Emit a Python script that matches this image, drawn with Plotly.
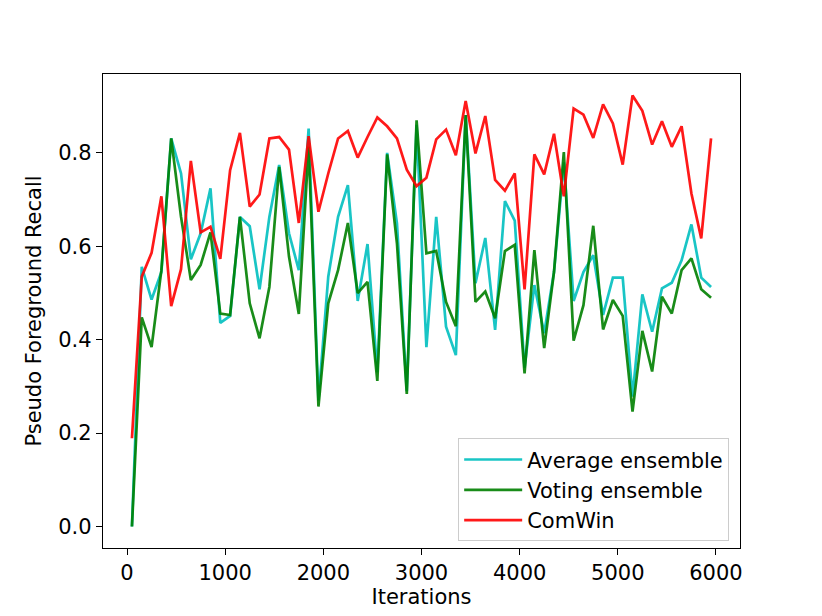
import plotly.graph_objects as go

# x grid: one evaluation every 100 iterations
iterations = list(range(50, 6000, 100))

average_ensemble = [
    0.000, 0.556, 0.486, 0.545, 0.831, 0.756, 0.572, 0.628, 0.724, 0.436,
    0.451, 0.663, 0.643, 0.508, 0.663, 0.774, 0.628, 0.549, 0.852, 0.270,
    0.535, 0.663, 0.731, 0.483, 0.605, 0.330, 0.800, 0.649, 0.290, 0.860,
    0.384, 0.663, 0.428, 0.367, 0.881, 0.521, 0.618, 0.421, 0.697, 0.655,
    0.340, 0.517, 0.414, 0.545, 0.780, 0.483, 0.545, 0.581, 0.453, 0.533,
    0.533, 0.278, 0.497, 0.417, 0.510, 0.522, 0.570, 0.647, 0.533, 0.513,
]

voting_ensemble = [
    0.000, 0.448, 0.384, 0.549, 0.831, 0.663, 0.528, 0.560, 0.630, 0.456,
    0.453, 0.663, 0.478, 0.403, 0.513, 0.770, 0.578, 0.455, 0.813, 0.257,
    0.478, 0.549, 0.650, 0.500, 0.524, 0.312, 0.797, 0.606, 0.284, 0.870,
    0.585, 0.590, 0.481, 0.429, 0.881, 0.481, 0.503, 0.446, 0.590, 0.603,
    0.328, 0.592, 0.382, 0.545, 0.802, 0.398, 0.474, 0.644, 0.422, 0.485,
    0.451, 0.246, 0.419, 0.332, 0.492, 0.456, 0.549, 0.574, 0.508, 0.490,
]

comwin = [
    0.189, 0.535, 0.586, 0.707, 0.472, 0.551, 0.783, 0.630, 0.642, 0.573,
    0.763, 0.843, 0.685, 0.711, 0.831, 0.834, 0.807, 0.650, 0.836, 0.674,
    0.756, 0.831, 0.847, 0.790, 0.834, 0.876, 0.857, 0.831, 0.764, 0.729,
    0.747, 0.829, 0.850, 0.795, 0.911, 0.799, 0.879, 0.742, 0.719, 0.756,
    0.508, 0.797, 0.754, 0.841, 0.707, 0.895, 0.882, 0.832, 0.904, 0.863,
    0.775, 0.923, 0.890, 0.818, 0.868, 0.813, 0.857, 0.713, 0.617, 0.831,
]

series = [
    ("Average ensemble", average_ensemble, "rgba(0, 191, 191, 0.9)"),
    ("Voting ensemble", voting_ensemble, "rgba(0, 128, 0, 0.9)"),
    ("ComWin", comwin, "rgba(255, 0, 0, 0.9)"),
]

FONT = "DejaVu Sans, Liberation Sans, sans-serif"
FS = 21

fig = go.Figure()
for name, values, color in series:
    fig.add_trace(
        go.Scatter(
            x=iterations,
            y=values,
            mode="lines",
            name=name,
            line=dict(color=color, width=2.7),
        )
    )

axis_common = dict(
    showgrid=False,
    zeroline=False,
    showline=True,
    mirror=True,
    linecolor="black",
    linewidth=1.4,
    ticks="outside",
    ticklen=6,
    tickwidth=1.4,
    tickcolor="black",
    tickfont=dict(family=FONT, size=FS, color="black"),
)

fig.update_xaxes(
    range=[-245, 6245],
    tickvals=[0, 1000, 2000, 3000, 4000, 5000, 6000],
    title=dict(text="Iterations", font=dict(family=FONT, size=FS, color="black"), standoff=4),
    **axis_common,
)
fig.update_yaxes(
    range=[-0.046, 0.969],
    tickvals=[0.0, 0.2, 0.4, 0.6, 0.8],
    tickformat=".1f",
    title=dict(text="Pseudo Foreground Recall", font=dict(family=FONT, size=FS, color="black"), standoff=10),
    **axis_common,
)

# the page body adds 8px on the left and top, so margins are shifted by that much
fig.update_layout(
    width=822,
    height=616,
    margin=dict(l=95, r=90, t=66, b=76),
    paper_bgcolor="white",
    plot_bgcolor="white",
    font=dict(family=FONT, size=FS, color="black"),
    legend=dict(
        x=0.983,
        y=0.014,
        xanchor="right",
        yanchor="bottom",
        bgcolor="rgba(255,255,255,0.8)",
        bordercolor="#cccccc",
        borderwidth=1,
        itemwidth=58,
        font=dict(family=FONT, size=FS, color="black"),
    ),
    showlegend=True,
)

fig.write_html("out.html")
